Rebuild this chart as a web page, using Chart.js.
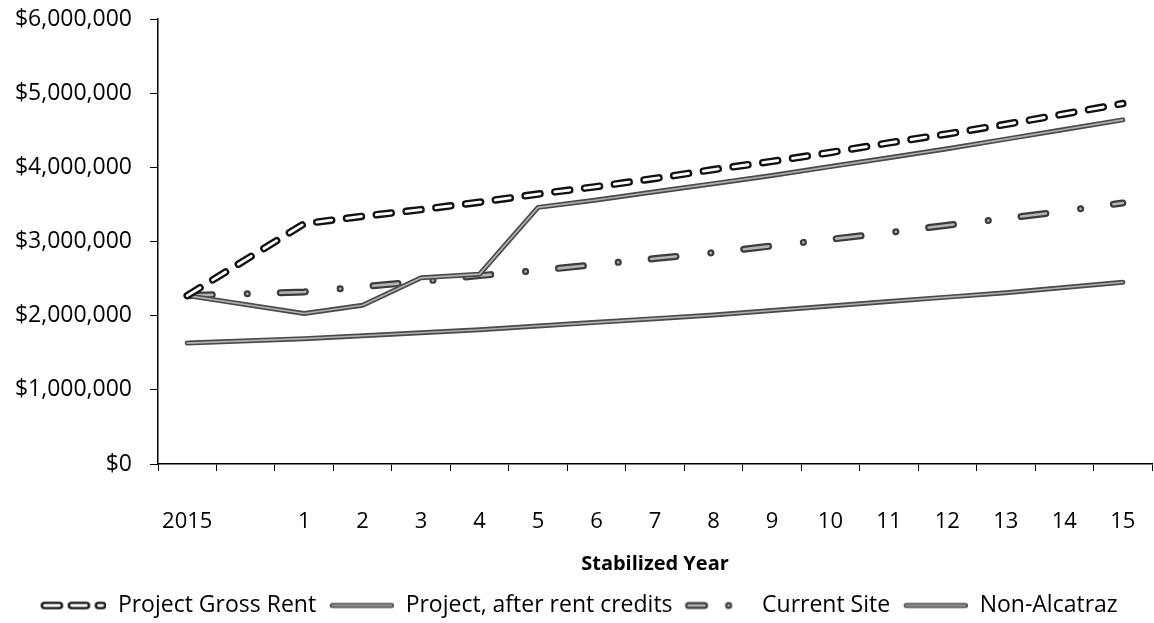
<!DOCTYPE html>
<html>
<head>
<meta charset="utf-8">
<script src="https://cdn.jsdelivr.net/npm/chart.js@4.4.1/dist/chart.umd.min.js"></script>
<style>
  html, body { margin: 0; padding: 0; background: #fff; }
  #wrap { width: 1154px; height: 623px; }
</style>
</head>
<body>
<div id="wrap"><canvas id="chart" width="1154" height="623"></canvas></div>
<script>
// x categories (the second slot has no label in the original)
const yearLabels = ['2015', '', '1', '2', '3', '4', '5', '6', '7', '8', '9', '10', '11', '12', '13', '14', '15']

// values, in dollars
const grossRent = [2270000, null, 3240000, 3340000, 3430000, 3530000, 3640000, 3740000, 3850000, 3970000, 4080000, 4200000, 4330000, 4450000, 4580000, 4720000, 4860000]
const afterCredits = [2270000, null, 2030000, 2140000, 2510000, 2560000, 3460000, 3560000, 3670000, 3780000, 3890000, 4010000, 4130000, 4250000, 4380000, 4510000, 4640000]
const currentSite = [2270000, null, 2320000, 2390000, 2460000, 2540000, 2610000, 2690000, 2770000, 2850000, 2940000, 3030000, 3120000, 3220000, 3310000, 3410000, 3520000]
const nonAlcatraz = [1630000, null, 1690000, 1730000, 1770000, 1810000, 1860000, 1910000, 1960000, 2010000, 2070000, 2130000, 2190000, 2250000, 2310000, 2380000, 2450000]

const seriesNames = ['Project Gross Rent', 'Project, after rent credits', 'Current Site', 'Non-Alcatraz']
const yTicks = [0, 1000000, 2000000, 3000000, 4000000, 5000000, 6000000]

const FONT = "'Open Sans', 'DejaVu Sans', sans-serif"

// line looks: outer stroke plus a lighter stroke on top, like the scanned lines
const looks = [
    { color: '#111', width: 7.5, inner: '#fff', innerWidth: 2.8, dash: [15, 15], legendDash: [15, 12] },
    { color: '#4a4a4a', width: 5, inner: '#b0b0b0', innerWidth: 1.6, dash: [] },
    { color: '#3c3c3c', width: 7, inner: '#b4b4b4', innerWidth: 2.6, dash: [25, 35, 0.1, 33], legendDash: [16, 24, 0.1, 30] },
    { color: '#4a4a4a', width: 5, inner: '#b0b0b0', innerWidth: 1.6, dash: [] },
]

// small canvas used as the legend swatch, line pushed to the right side
function makeSwatch(look, w, h) {
    let c = document.createElement('canvas')
    c.width = w
    c.height = h
    let g = c.getContext('2d')
    g.lineCap = 'round'
    g.setLineDash(look.legendDash || look.dash)
    g.beginPath()
    g.moveTo(10, h / 2)
    g.lineTo(w - look.width / 2, h / 2)
    g.strokeStyle = look.color
    g.lineWidth = look.width
    g.stroke()
    g.strokeStyle = look.inner
    g.lineWidth = look.innerWidth
    g.stroke()
    return c
}

const SWATCH_W = 72
const swatches = looks.map(l => makeSwatch(l, SWATCH_W, 12))

// draws the lighter inner stroke over each line
const innerStroke = {
    id: 'innerStroke',
    afterDatasetDraw(chart, args) {
        let ds = chart.data.datasets[args.index]
        if (!ds.innerColor) return
        let ctx = chart.ctx
        ctx.save()
        ctx.beginPath()
        args.meta.dataset.path(ctx)
        ctx.lineWidth = ds.innerWidth
        ctx.strokeStyle = ds.innerColor
        ctx.setLineDash(ds.borderDash || [])
        ctx.lineCap = 'round'
        ctx.lineJoin = 'round'
        ctx.stroke()
        ctx.restore()
    }
}

const allSeries = [grossRent, afterCredits, currentSite, nonAlcatraz]

const datasets = allSeries.map((values, i) => ({
    label: seriesNames[i],
    data: values,
    borderColor: looks[i].color,
    borderWidth: looks[i].width,
    borderDash: looks[i].dash,
    borderCapStyle: 'round',
    borderJoinStyle: 'round',
    innerColor: looks[i].inner,
    innerWidth: looks[i].innerWidth,
    pointRadius: 0,
    tension: 0,
    spanGaps: true,
    fill: false,
}))

const ctx = document.querySelector('#chart').getContext('2d')

new Chart(ctx, {
    type: 'line',
    data: { labels: yearLabels, datasets: datasets },
    plugins: [innerStroke],
    options: {
        responsive: false,
        animation: false,
        layout: { padding: { top: 19, right: 2, left: 0, bottom: -4 } },
        plugins: {
            tooltip: { enabled: false },
            legend: {
                position: 'bottom',
                labels: {
                    usePointStyle: true,
                    pointStyleWidth: SWATCH_W,
                    boxHeight: 12,
                    padding: 6,
                    color: '#000',
                    font: { family: FONT, size: 23 },
                    generateLabels: (chart) => chart.data.datasets.map((ds, i) => ({
                        text: ds.label,
                        pointStyle: swatches[i],
                        datasetIndex: i,
                        fillStyle: 'transparent',
                        strokeStyle: 'transparent',
                        lineWidth: 0,
                        hidden: false,
                        fontColor: '#000',
                    })),
                },
            },
        },
        scales: {
            x: {
                offset: true,
                afterFit: (scale) => {
                    scale.height = 124
                    scale.paddingLeft = 0
                    scale.paddingRight = 0
                },
                border: { color: '#000', width: 1.5 },
                grid: { offset: true, drawOnChartArea: false, tickLength: 7, color: '#000' },
                ticks: { color: '#000', padding: 38, maxRotation: 0, autoSkip: false, font: { family: FONT, size: 22 } },
                title: {
                    display: true,
                    text: 'Stabilized Year',
                    color: '#000',
                    padding: { top: 0, bottom: 12 },
                    font: { family: FONT, size: 20, weight: 'bold' },
                },
            },
            y: {
                min: 0,
                max: 6000000,
                afterFit: (scale) => {
                    scale.width = 158
                    scale.paddingTop = 0
                    scale.paddingBottom = 0
                },
                afterBuildTicks: (scale) => { scale.ticks = yTicks.map(v => ({ value: v })) },
                border: { color: '#000', width: 1.5 },
                grid: { drawOnChartArea: false, tickLength: 8, color: '#000' },
                ticks: {
                    color: '#000',
                    padding: 18,
                    font: { family: FONT, size: 23 },
                    callback: (v) => '$' + Number(v).toLocaleString('en-US'),
                },
            },
        },
    },
})
</script>
</body>
</html>
